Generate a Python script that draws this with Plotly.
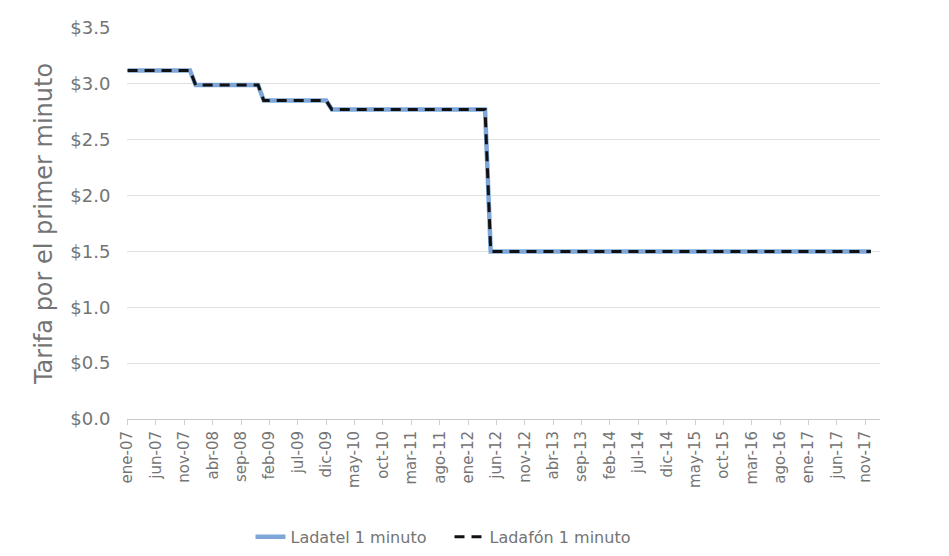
import plotly.graph_objects as go

meses = ["ene", "feb", "mar", "abr", "may", "jun", "jul", "ago", "sep", "oct", "nov", "dic"]
anios = ["07", "08", "09", "10", "11", "12", "13", "14", "15", "16", "17"]
categorias = [f"{m}-{a}" for a in anios for m in meses]

# Tarifas (por tramos mensuales)
ladatel = [3.12] * 12 + [2.99] * 12 + [2.85] * 12 + [2.77] * 28 + [1.50] * 68
ladafon = [3.12] * 12 + [2.99] * 12 + [2.85] * 12 + [2.77] * 28 + [1.50] * 68

tick_labels = categorias[::5]

GRAY = "#747474"
FONT = "DejaVu Sans, Liberation Sans, sans-serif"

fig = go.Figure()
fig.add_trace(go.Scatter(
    x=categorias, y=ladatel, mode="lines", name="Ladatel 1 minuto",
    line=dict(color="#7ea6d8", width=4.5),
))
fig.add_trace(go.Scatter(
    x=categorias, y=ladafon, mode="lines", name="Ladafón 1 minuto",
    line=dict(color="#111111", width=3, dash="10px,7px"),
))

# the page body adds an 8px offset, so the figure is 941x548
fig.update_layout(
    width=941, height=548,
    paper_bgcolor="white", plot_bgcolor="white",
    margin=dict(l=119, r=69, t=20, b=137),
    font=dict(family=FONT, color=GRAY, size=14),
    showlegend=True,
    legend=dict(orientation="h", x=0.164, xanchor="left", xref="paper",
                y=0.035, yanchor="middle", yref="container",
                font=dict(size=16, color=GRAY), entrywidth=154, entrywidthmode="pixels"),
    xaxis=dict(
        type="category", categoryorder="array", categoryarray=categorias,
        tickmode="array", tickvals=tick_labels, ticktext=tick_labels,
        tickangle=-90, tickfont=dict(size=15, color=GRAY),
        range=[-0.1, 132.6], automargin=False,
        showgrid=False, showline=True, linecolor="#c8c8c8", linewidth=1,
        ticks="outside", ticklen=5, tickcolor="#d0d0d0",
    ),
    yaxis=dict(
        range=[0, 3.5], dtick=0.5, tickprefix="$", tickformat=".1f",
        automargin=False,
        showgrid=True, gridcolor="#e0e0e0", gridwidth=1,
        zeroline=False, showline=False,
        ticks="outside", ticklen=12, tickcolor="rgba(0,0,0,0)",
        tickfont=dict(size=18, color=GRAY),
        title=dict(text="Tarifa por el primer minuto", font=dict(size=24, color=GRAY), standoff=10),
    ),
)

fig.write_html("out.html")
